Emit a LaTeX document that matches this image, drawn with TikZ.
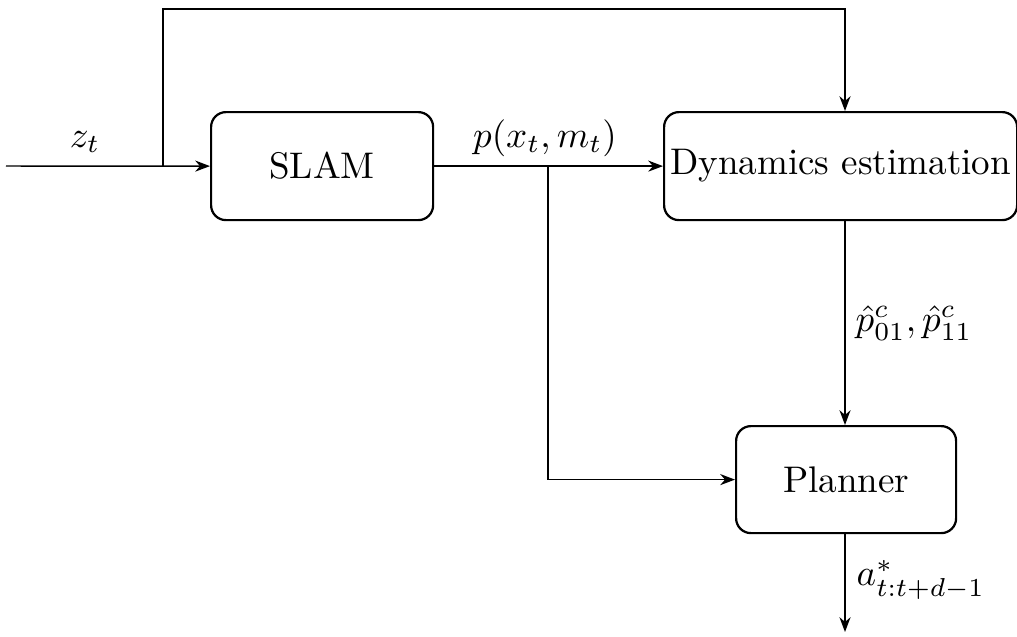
\documentclass[tikz,border=0pt]{standalone}
\usetikzlibrary{arrows.meta}
\begin{document}
\begin{tikzpicture}[x=0.27pt,y=-0.27pt,
  blk/.style={draw,line width=0.6pt,rounded corners=4pt,inner sep=0pt,anchor=north west},
  conn/.style={line width=0.4pt,-{Stealth[length=4pt,width=3pt]}},
  lbl/.style={inner sep=0pt}]
\useasboundingbox (0,0) rectangle (1017,637);
\node[blk,minimum width=222*0.27pt,minimum height=108*0.27pt] (slam) at (210,111) {};
\node at (slam.center) {SLAM};
\node[blk,minimum width=353*0.27pt,minimum height=108*0.27pt] (dyn) at (663,111) {};
\node at (dyn.center) {Dynamics estimation};
\node[blk,minimum width=220*0.27pt,minimum height=107*0.27pt] (plan) at (735,425) {};
\node at (plan.center) {Planner};
\coordinate (in) at (6,166);
\coordinate (b1) at (163,166);
\coordinate (b2) at (548,166);
\coordinate (out) at (845,632);
\draw[conn] (in) -- (slam.west);
\draw[conn] (b1) -- (163,9) -| (845,111);
\draw[conn] (slam.east) -- (dyn.west);
\draw[conn] (b2) |- (plan.west);
\draw[conn] (845,219) -- (845,425);
\draw[conn] (845,532) -- (out);
\node[lbl] (lz) at (85,142) {$z_t$};
\node[lbl] (lp) at (545,138) {$p(x_t,m_t)$};
\node[lbl,anchor=west] (lh) at (855,323) {$\hat{p}^c_{01},\hat{p}^c_{11}$};
\node[lbl,anchor=west] (la) at (856,580) {$a^*_{t:t+d-1}$};
\end{tikzpicture}
\end{document}
